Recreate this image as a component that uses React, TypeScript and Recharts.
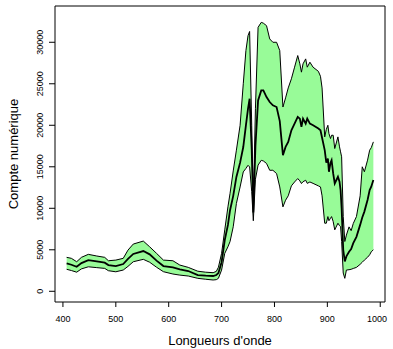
import React from 'react';
import {
  ComposedChart,
  Area,
  Line,
  XAxis,
  YAxis,
  ReferenceArea,
  Label,
} from 'recharts';

// Wavelengths (nm) and the three spectra: lower bound, mean, upper bound
const wavelengths = [
  407, 416, 426, 435, 448, 464, 479, 486, 500, 514, 523, 533, 552, 564, 577, 590, 608, 621, 637, 655,
  670, 684, 690, 694, 700, 706, 712, 716, 722, 728, 735, 741, 746, 750, 753, 757, 760, 764, 769, 775,
  779, 785, 791, 797, 804, 810, 816, 821, 826, 832, 838, 844, 848, 851, 854, 859, 862, 867, 873, 883,
  887, 890, 895, 898, 901, 903, 906, 908, 911, 914, 920, 923, 925, 927, 930, 933, 936, 941, 945, 949,
  955, 962, 966, 970, 976, 980, 983, 987,
];
const lowerCounts = [
  2650, 2500, 2300, 2700, 2950, 2850, 2760, 2480, 2350, 2560, 3000, 3560, 3850, 3500, 2900, 2360, 2080, 1950, 1840, 1560,
  1450, 1360, 1400, 1560, 2560, 4570, 5360, 6000, 7770, 10580, 12570, 14380, 14800, 15180, 14980, 12000, 8500, 13500, 15200, 15780,
  15700, 15400, 14580, 14580, 14180, 12570, 10170, 10970, 11500, 12700, 13170, 13580, 13300, 12980, 13200, 13380, 13000, 13170, 13000, 12700,
  12570, 11500, 8200, 8200, 9000, 8500, 8800, 9000, 8400, 7400, 8200, 7900, 7800, 6000, 2200, 1560, 2560, 2600, 2650, 2750,
  2880, 3250, 3500, 3760, 4100, 4400, 4760, 5000,
];
const meanCounts = [
  3370, 3200, 2950, 3400, 3760, 3600, 3450, 3160, 3040, 3280, 3900, 4500, 4850, 4450, 3700, 3040, 2880, 2650, 2440, 1950,
  1880, 1840, 1960, 2200, 3500, 6170, 8000, 9770, 11500, 13780, 15500, 17380, 20000, 22000, 23200, 17000, 9500, 17500, 23000, 24200,
  24200, 23400, 22800, 22400, 22200, 20500, 16400, 17400, 18000, 19400, 20200, 21000, 20800, 19800, 20800, 20200, 20800, 20200, 20000, 19600,
  19400, 18500, 17000, 15500, 16000, 14400, 15500, 15800, 14200, 13000, 13800, 13200, 12200, 10000, 5000, 3600, 4200, 4760, 5100, 5800,
  6560, 8000, 8900, 9600, 11000, 12200, 12600, 13400,
];
const upperCounts = [
  4090, 3970, 3560, 4090, 4450, 4250, 4090, 3680, 3760, 3970, 4960, 5690, 6050, 5360, 4570, 3760, 3680, 3160, 2880, 2420,
  2300, 2240, 2400, 2900, 4570, 7400, 10170, 11800, 14500, 17000, 20000, 25000, 29000, 30800, 31300, 20000, 10500, 22000, 31800, 32400,
  32300, 32000, 30400, 30000, 30000, 29000, 22200, 23300, 24500, 25600, 27000, 28400, 27400, 26400, 27400, 28000, 27000, 27600, 27000, 26500,
  25900, 24500, 18600, 19500, 20000, 19000, 18400, 18800, 18800, 17200, 18600, 17400, 16800, 16200, 9000, 6000, 6770, 7760, 7300, 8170,
  9000, 11500, 15000, 14400, 15800, 17000, 17300, 18000,
];

const X_TICKS = [400, 500, 600, 700, 800, 900, 1000];
const Y_TICKS = [0, 5000, 10000, 15000, 20000, 25000, 30000];
const X_DOMAIN: [number, number] = [385, 1009];
const Y_DOMAIN: [number, number] = [-1290, 34370];

const data = wavelengths.map((wl, i) => ({
  wl,
  lower: lowerCounts[i],
  mean: meanCounts[i],
  upper: upperCounts[i],
  range: [lowerCounts[i], upperCounts[i]],
}));

const FONT = '"Liberation Sans", Arial, Helvetica, sans-serif';

const YTick = (props: any) => {
  const { x, y, payload } = props;
  const tx = x - 4;
  return (
    <text
      x={tx}
      y={y}
      transform={`rotate(-90 ${tx} ${y})`}
      textAnchor="middle"
      fontSize={9}
      fontFamily={FONT}
      fill="#000"
    >
      {payload.value}
    </text>
  );
};

const XTick = (props: any) => {
  const { x, y, payload } = props;
  return (
    <text x={x} y={y + 13} textAnchor="middle" fontSize={9} fontFamily={FONT} fill="#000">
      {payload.value}
    </text>
  );
};

export default function App() {
  return (
    <div style={{ position: 'absolute', left: 0, top: 0, background: '#fff' }}>
      <ComposedChart width={393} height={349} data={data} margin={{ top: 6, right: 8, left: 0, bottom: 0 }}>
        <XAxis
          type="number"
          dataKey="wl"
          domain={X_DOMAIN}
          ticks={X_TICKS}
          allowDataOverflow
          axisLine={false}
          tickSize={5}
          tickLine={{ stroke: '#000' }}
          tick={<XTick />}
          height={47}
        >
          <Label
            content={({ viewBox }: any) => (
              <text
                x={viewBox.x + viewBox.width / 2}
                y={viewBox.y + 43}
                textAnchor="middle"
                fontSize={13}
                fontFamily={FONT}
                fill="#000"
              >
                Longueurs d'onde
              </text>
            )}
          />
        </XAxis>
        <YAxis
          type="number"
          domain={Y_DOMAIN}
          ticks={Y_TICKS}
          allowDataOverflow
          axisLine={false}
          tickSize={6}
          tickLine={{ stroke: '#000' }}
          tick={<YTick />}
          width={55}
        >
          <Label
            content={({ viewBox }: any) => {
              const cx = 18;
              const cy = viewBox.y + viewBox.height / 2;
              return (
                <text
                  x={cx}
                  y={cy}
                  transform={`rotate(-90 ${cx} ${cy})`}
                  textAnchor="middle"
                  fontSize={13}
                  fontFamily={FONT}
                  fill="#000"
                >
                  Compte numérique
                </text>
              );
            }}
          />
        </YAxis>
        <Area
          type="linear"
          dataKey="range"
          fill="#98FB98"
          fillOpacity={1}
          stroke="none"
          isAnimationActive={false}
        />
        <Line type="linear" dataKey="lower" stroke="#000" strokeWidth={1} dot={false} isAnimationActive={false} />
        <Line type="linear" dataKey="upper" stroke="#000" strokeWidth={1} dot={false} isAnimationActive={false} />
        <Line type="linear" dataKey="mean" stroke="#000" strokeWidth={1.8} dot={false} isAnimationActive={false} />
        <ReferenceArea
          x1={X_DOMAIN[0]}
          x2={X_DOMAIN[1]}
          y1={Y_DOMAIN[0]}
          y2={Y_DOMAIN[1]}
          fill="none"
          stroke="#000"
          strokeWidth={1}
          ifOverflow="visible"
        />
      </ComposedChart>
    </div>
  );
}
